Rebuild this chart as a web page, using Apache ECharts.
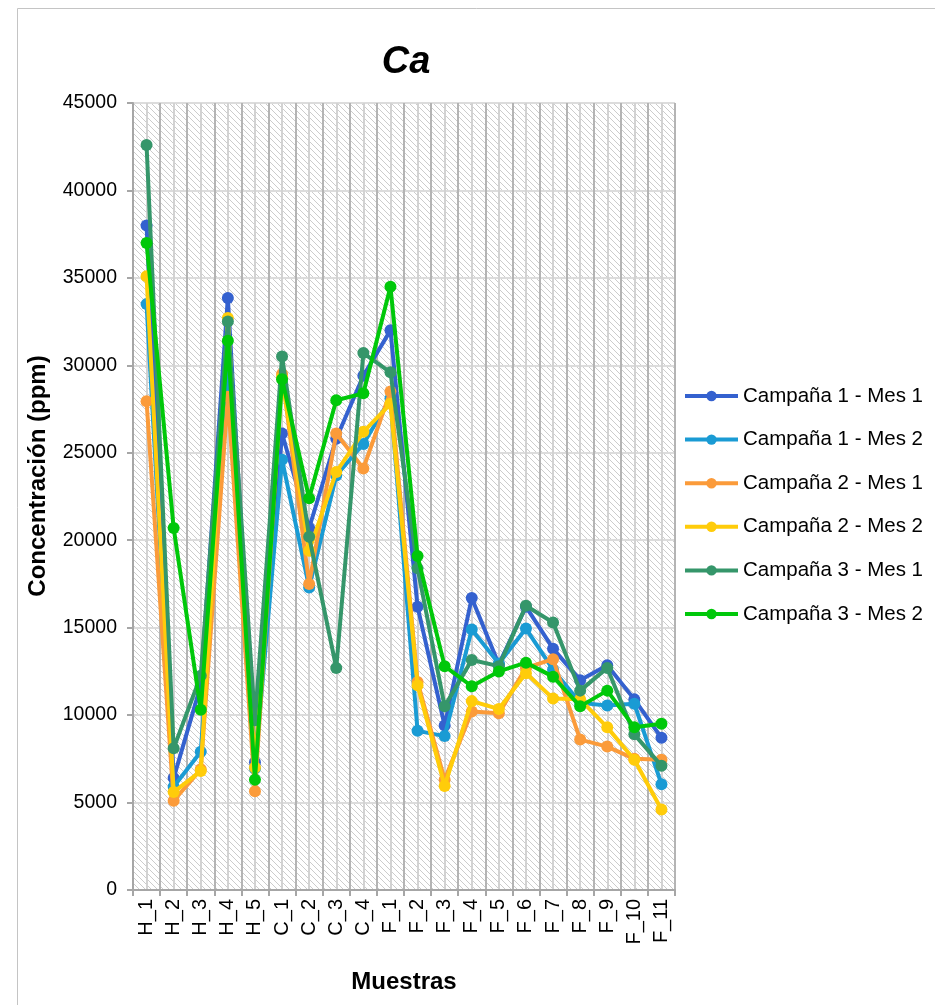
<!DOCTYPE html>
<html>
<head>
<meta charset="utf-8">
<script src="https://cdn.jsdelivr.net/npm/echarts@6/dist/echarts.min.js"></script>
<style>html,body{margin:0;padding:0;background:#fff;}#c{width:935px;height:1005px;}</style>
</head>
<body>
<div id="c"></div>
<script>
const categories = ['H_1','H_2','H_3','H_4','H_5','C_1','C_2','C_3','C_4','F_1','F_2','F_3','F_4','F_5','F_6','F_7','F_8','F_9','F_10','F_11'];
const yTicks = [0, 5000, 10000, 15000, 20000, 25000, 30000, 35000, 40000, 45000];
const seriesNames = ['Campaña 1 - Mes 1','Campaña 1 - Mes 2','Campaña 2 - Mes 1','Campaña 2 - Mes 2','Campaña 3 - Mes 1','Campaña 3 - Mes 2'];
const c1m1 = [38000, 6400, 11700, 33850, 7300, 26100, 20700, 25800, 29400, 32000, 16200, 9400, 16700, 12900, 16200, 13800, 12000, 12850, 10900, 8700];
const c1m2 = [33500, 5900, 7900, 29400, 6950, 24600, 17300, 23700, 25500, 28100, 9100, 8800, 14900, 12950, 14950, 12600, 10700, 10550, 10650, 6050];
const c2m1 = [27950, 5100, 6900, 28200, 5650, 29500, 17500, 26100, 24100, 28500, 11900, 6300, 10200, 10100, 12700, 13200, 8600, 8200, 7500, 7450];
const c2m2 = [35100, 5600, 6800, 32700, 7000, 29300, 19400, 23900, 26200, 27800, 11700, 5950, 10800, 10350, 12400, 10950, 10900, 9300, 7450, 4600];
const c3m1 = [42600, 8100, 12250, 32500, 9700, 30500, 20200, 12700, 30700, 29600, 18400, 10500, 13150, 12800, 16250, 15300, 11400, 12700, 8900, 7100];
const c3m2 = [37000, 20700, 10300, 31400, 6300, 29200, 22400, 28000, 28400, 34500, 19100, 12800, 11650, 12500, 13000, 12200, 10500, 11400, 9300, 9500];
const colors = ['#3461cf', '#1a9bd4', '#fb9b3a', '#ffcc0a', '#35966a', '#00c80a'];
const allData = [c1m1, c1m2, c2m1, c2m2, c3m1, c3m2];

// hatch pattern
const pc = document.createElement('canvas');
pc.width = 6; pc.height = 6;
const ctx = pc.getContext('2d');
ctx.fillStyle = '#ffffff'; ctx.fillRect(0,0,6,6);
ctx.strokeStyle = '#cccccc'; ctx.lineWidth = 1;
ctx.beginPath();
ctx.moveTo(-1,-1); ctx.lineTo(7,7);
ctx.moveTo(-4,2); ctx.lineTo(4,10);
ctx.moveTo(2,-4); ctx.lineTo(10,4);
ctx.stroke();

const FONT = 'Liberation Sans, Arial, sans-serif';
const chart = echarts.init(document.getElementById('c'), null, {renderer: 'canvas'});
const option = {
  animation: false,
  backgroundColor: '#ffffff',
  textStyle: {fontFamily: FONT},
  title: {
    text: 'Ca', left: 401, top: 39, textAlign: 'center',
    textStyle: {fontFamily: FONT, fontSize: 38, fontWeight: 'bold', fontStyle: 'italic', color: '#000'}
  },
  graphic: [{
    type: 'rect', shape: {x: 17.5, y: 8.5, width: 940, height: 1020},
    style: {fill: 'none', stroke: '#c4c4c4', lineWidth: 1}, silent: true, z: -1
  }, {
    type: 'text', x: 38, y: 476, rotation: Math.PI / 2, silent: true,
    style: {text: 'Concentración (ppm)', fill: '#000', font: 'bold 24px ' + FONT,
      textAlign: 'center', textVerticalAlign: 'middle'}
  }],
  grid: {
    left: 133, right: 260, top: 103, bottom: 115,
    show: true, borderWidth: 0,
    backgroundColor: {image: pc, repeat: 'repeat'}
  },
  legend: {
    orient: 'vertical', left: 683, top: 384, padding: 0,
    itemWidth: 53, itemHeight: 13, itemGap: 19.6,
    lineStyle: {width: 4},
    data: seriesNames,
    textStyle: {fontFamily: FONT, fontSize: 20.5, color: '#000', lineHeight: 24}
  },
  xAxis: [{
    type: 'category', data: categories, boundaryGap: true,
    name: 'Muestras', nameLocation: 'middle', nameGap: 80,
    nameTextStyle: {fontFamily: FONT, fontSize: 24, fontWeight: 'bold', color: '#000'},
    axisLine: {lineStyle: {color: '#a6a6a6', width: 2}},
    axisTick: {show: true, alignWithLabel: false, length: 6, lineStyle: {color: '#a6a6a6', width: 2}},
    axisLabel: {rotate: 90, interval: 0, fontFamily: FONT, fontSize: 20, color: '#000', margin: 9},
    splitLine: {show: false}
  }, {
    type: 'value', min: 0, max: 40, interval: 1, position: 'top',
    axisLine: {show: false}, axisTick: {show: false}, axisLabel: {show: false},
    splitLine: {show: true, lineStyle: {color: ['#b4b4b4', '#d2d2d2'], width: 2}}
  }],
  yAxis: {
    type: 'value', min: 0, max: 45000, interval: 5000,
    axisLine: {show: true, lineStyle: {color: '#a6a6a6', width: 2}},
    axisTick: {show: true, length: 6, lineStyle: {color: '#a6a6a6', width: 2}},
    axisLabel: {fontFamily: FONT, fontSize: 19.5, color: '#000', margin: 16,
      formatter: function (v) { return yTicks.indexOf(v) >= 0 ? String(v) : ''; }},
    splitLine: {show: true, lineStyle: {color: '#dcdcdc', width: 2}}
  },
  series: seriesNames.map(function (n, i) {
    return {
      name: n, type: 'line', data: allData[i], xAxisIndex: 0,
      symbol: 'circle', symbolSize: 12, showSymbol: true,
      lineStyle: {width: 4, color: colors[i]},
      itemStyle: {color: colors[i]},
      z: 2 + i
    };
  })
};
chart.setOption(option);
</script>
</body>
</html>
